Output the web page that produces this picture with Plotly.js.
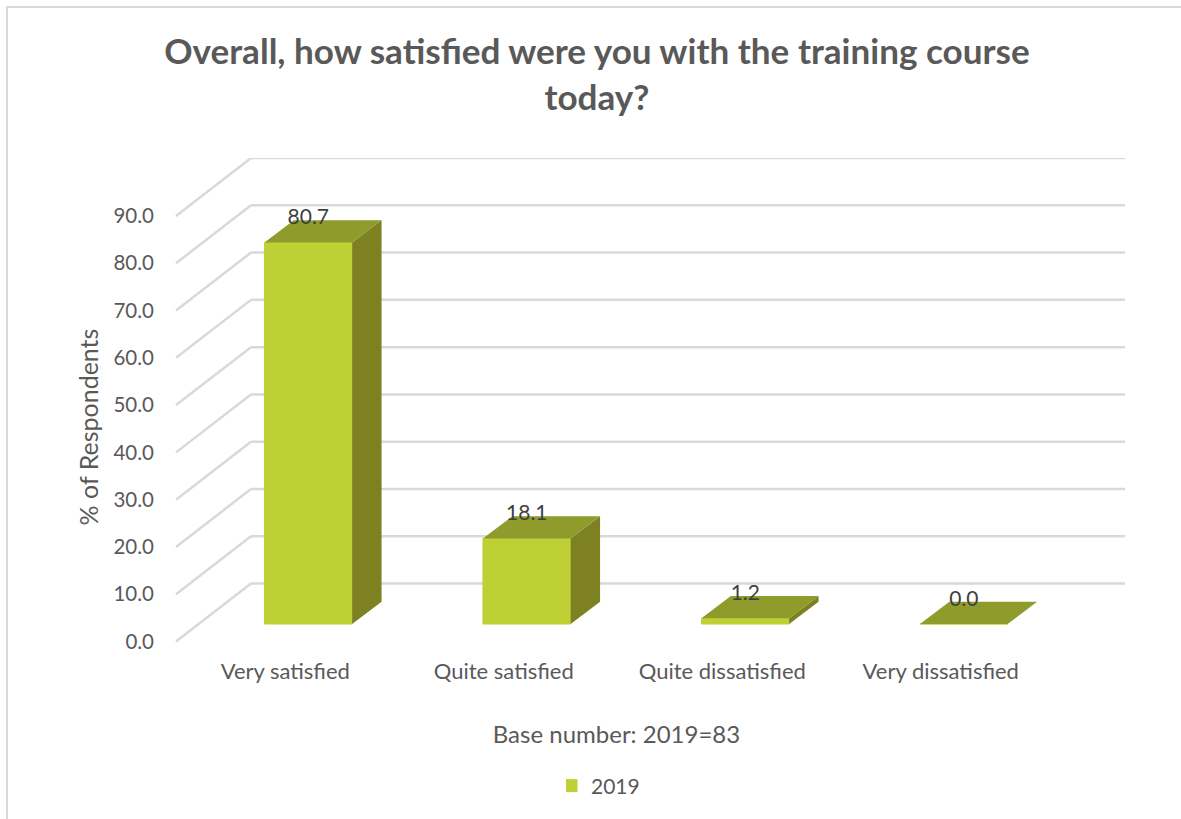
<!DOCTYPE html>
<html>
<head>
<meta charset="utf-8">
<script src="https://cdn.plot.ly/plotly-3.0.1.min.js"></script>
<style>html,body{margin:0;padding:0;background:#fff}</style>
</head>
<body>
<div id="chart" style="width:1181px;height:819px"></div>
<script>
const categories = ["Very satisfied", "Quite satisfied", "Quite dissatisfied", "Very dissatisfied"];
const values2019 = [80.7, 18.1, 1.2, 0.0];
const valueLabels = ["80.7", "18.1", "1.2", "0.0"];
const seriesName = "2019";
const yTicks = [0, 10, 20, 30, 40, 50, 60, 70, 80, 90];
const yTickLabels = ["0.0", "10.0", "20.0", "30.0", "40.0", "50.0", "60.0", "70.0", "80.0", "90.0"];

// 3-D look, in axis units
const W = 1181, H = 819;
const wallDx = 0.3432, wallDy = 12.25;      // depth of the floor
const barOffset = 0.6055, barWidth = 0.4014; // bar position in a category
const barBase = 3.7, barDx = 0.1346, barDy = 4.71;
const labelGap = 5.0;
const xMin = -0.3112, xMax = categories.length + wallDx;
const yMin = -11.52, yMax = 90 + wallDy;
const M = {l: 108, r: 56, t: 158, b: 123};
const FONT = "Lato";

const centers = categories.map((_, i) => i + barOffset);
const tops = values2019.map(v => v + barBase);

function faces(build) {
  const xs = [], ys = [];
  centers.forEach((c, i) => {
    build(c - barWidth / 2, c + barWidth / 2, tops[i]).forEach(p => { xs.push(p[0]); ys.push(p[1]); });
    xs.push(null); ys.push(null);
  });
  return {x: xs, y: ys};
}
const topFace = faces((l, r, t) => [[l, t], [r, t], [r + barDx, t + barDy], [l + barDx, t + barDy], [l, t]]);
const sideFace = faces((l, r, t) => [[r, barBase], [r + barDx, barBase + barDy], [r + barDx, t + barDy], [r, t], [r, barBase]]);

const gridColor = "#D9D9D9";
const gridShapes = [];
yTicks.forEach(v => {
  gridShapes.push({type: "line", layer: "below", xref: "x", yref: "y", x0: 0, y0: v, x1: wallDx, y1: v + wallDy, line: {color: gridColor, width: 2.5}});
  gridShapes.push({type: "line", layer: "below", xref: "x", yref: "y", x0: wallDx, y0: v + wallDy, x1: xMax, y1: v + wallDy, line: {color: gridColor, width: 2.5}});
});
const pw = W - M.l - M.r, ph = H - M.t - M.b;
const border = {type: "path", layer: "below", xref: "paper", yref: "paper",
  path: `M ${(7 - M.l) / pw} ${(H - M.b - 819) / ph} L ${(7 - M.l) / pw} ${(H - M.b - 7) / ph} L ${(1181 - M.l) / pw} ${(H - M.b - 7) / ph}`,
  line: {color: gridColor, width: 2}};

const traces = [
  {type: "bar", name: seriesName, x: centers, y: values2019, base: barBase, width: barWidth,
   marker: {color: "#BFD037", line: {color: "#BFD037", width: 1}}, showlegend: true, hoverinfo: "y"},
  {type: "scatter", mode: "lines", x: sideFace.x, y: sideFace.y, fill: "toself", fillcolor: "#7D8122",
   line: {width: 0, color: "#7D8122"}, showlegend: false, hoverinfo: "skip"},
  {type: "scatter", mode: "lines", x: topFace.x, y: topFace.y, fill: "toself", fillcolor: "#8F9C2B",
   line: {width: 0, color: "#8F9C2B"}, showlegend: false, hoverinfo: "skip"},
  {type: "scatter", mode: "text", x: centers, y: tops.map(t => t + labelGap), text: valueLabels,
   textposition: "middle center", textfont: {family: FONT, size: 21, color: "#404040"},
   showlegend: false, hoverinfo: "skip", cliponaxis: false}
];

const layout = {
  width: W, height: H, margin: M, autosize: false,
  paper_bgcolor: "#fff", plot_bgcolor: "rgba(0,0,0,0)",
  font: {family: FONT, color: "#595959", size: 21},
  title: {text: "Overall, how satisfied were you with the training course<br>today?",
          font: {family: FONT, size: 35.1, color: "#595959", weight: 700},
          xref: "container", yref: "container", x: 597 / W, xanchor: "center", y: 1 - 64 / H, yanchor: "top"},
  xaxis: {range: [xMin, xMax], anchor: "free", position: (696 - 641.5) / ph,
          tickmode: "array", tickvals: categories.map((_, i) => i + 0.5), ticktext: categories,
          ticks: "", showgrid: false, zeroline: false, showline: false, ticklabelstandoff: 14,
          tickfont: {size: 22, color: "#595959"},
          title: {text: "Base number: 2019=83", font: {size: 24, color: "#595959"}, standoff: 43}},
  yaxis: {range: [yMin, yMax], anchor: "free", position: (176 - M.l) / pw,
          tickmode: "array", tickvals: yTicks, ticktext: yTickLabels,
          ticks: "", showgrid: false, zeroline: false, showline: false, ticklabelstandoff: 22,
          tickfont: {size: 20.5, color: "#595959"},
          title: {text: "% of Respondents", font: {size: 25, color: "#595959"}, standoff: 6}},
  legend: {orientation: "v", x: (566 - M.l) / pw, xanchor: "left", y: (696 - 786) / ph, yanchor: "middle",
           indentation: -15, bgcolor: "rgba(0,0,0,0)", font: {size: 21, color: "#595959"}},
  shapes: gridShapes.concat([border])
};

Plotly.newPlot("chart", traces, layout, {displayModeBar: false, responsive: false});
</script>
</body>
</html>
